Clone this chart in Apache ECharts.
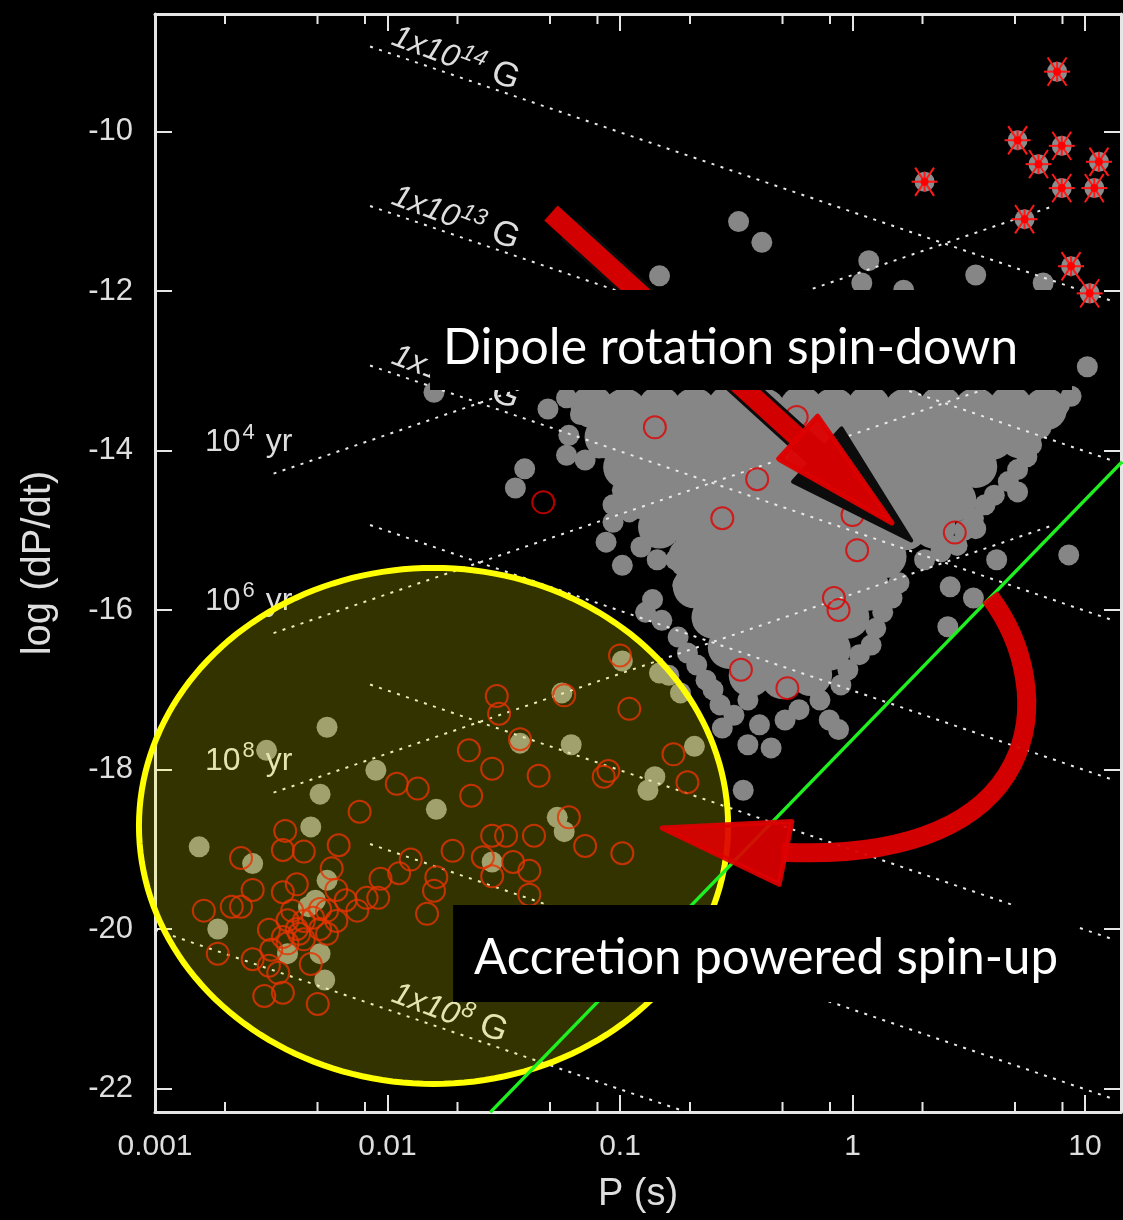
<!DOCTYPE html>
<html><head><meta charset="utf-8">
<script src="https://cdn.jsdelivr.net/npm/echarts@6.0.0/dist/echarts.min.js"></script>
<style>html,body{margin:0;padding:0;background:#000;}#c{width:1123px;height:1220px;}</style>
</head><body><div id="c"></div>
<script>
// ---------------- data (log10 P [s], log10 dP/dt) ----------------
const xTickValues = [-3, -2, -1, 0, 1];
const xTickLabels = ['0.001', '0.01', '0.1', '1', '10'];
const xMinorTicksSec = [0.002, 0.005, 0.008, 0.02, 0.05, 0.08, 0.2, 0.5, 0.8, 2, 5, 8];
const yTickValues = [-22, -20, -18, -16, -14, -12, -10];

// dense part of the normal pulsar population
const grayCore = [
  [-1.12,-13.45],[-0.98,-13.49],[-0.83,-13.46],[-0.68,-13.48],[-0.53,-13.45],[-0.38,-13.49],[-0.22,-13.46],[-0.08,-13.48],[0.07,-13.45],[0.23,-13.49],[0.38,-13.46],[0.53,-13.48],[0.68,-13.45],[0.83,-13.48],
  [-1.06,-13.83],[-0.90,-13.86],[-0.75,-13.82],[-0.61,-13.85],[-0.45,-13.83],[-0.30,-13.86],[-0.15,-13.82],[0.01,-13.85],[0.15,-13.83],[0.30,-13.86],[0.45,-13.82],[0.60,-13.85],[0.72,-13.83],
  [-0.98,-14.21],[-0.83,-14.24],[-0.68,-14.20],[-0.53,-14.23],[-0.38,-14.21],[-0.23,-14.24],[-0.08,-14.20],[0.08,-14.23],[0.23,-14.21],[0.38,-14.24],[0.53,-14.20],
  [-0.91,-14.59],[-0.75,-14.62],[-0.60,-14.58],[-0.45,-14.61],[-0.30,-14.59],[-0.15,-14.62],[0.00,-14.58],[0.15,-14.61],[0.30,-14.59],[0.44,-14.62],
  [-0.83,-14.96],[-0.68,-14.99],[-0.53,-14.95],[-0.38,-14.98],[-0.23,-14.96],[-0.08,-14.99],[0.08,-14.95],[0.23,-14.98],[0.35,-14.96],
  [-0.70,-15.34],[-0.60,-15.37],[-0.45,-15.33],[-0.30,-15.36],[-0.15,-15.34],[0.00,-15.37],[0.14,-15.33],
  [-0.68,-15.71],[-0.53,-15.74],[-0.38,-15.70],[-0.23,-15.73],[-0.08,-15.71],[0.07,-15.74],
  [-0.60,-16.09],[-0.45,-16.12],[-0.30,-16.08],[-0.15,-16.11],[-0.02,-16.09],
  [-0.53,-16.47],[-0.38,-16.50],[-0.23,-16.46],[-0.10,-16.49],
  [-0.44,-16.82],[-0.30,-16.85],[-0.18,-16.81]
];
// individual pulsars on the rim of the cloud and isolated ones
const grayEdge = [
  [-1.23,-13.34],[-1.17,-13.55],[-1.22,-13.81],[-1.23,-14.06],[-1.15,-14.12],[-1.09,-13.97],[-1.31,-13.48],
  [-1.01,-14.27],[-0.99,-14.50],[-1.03,-14.68],[-1.03,-14.90],[-1.06,-15.15],[-0.96,-14.77],[-0.91,-15.21],
  [-0.84,-15.37],[-0.99,-15.44],[-0.76,-15.37],[-0.73,-15.69],[-0.86,-15.87],[-0.89,-16.03],[-0.82,-16.13],
  [-0.75,-16.34],[-0.71,-16.54],[-0.67,-16.69],[-0.63,-16.88],[-0.60,-17.00],[-0.57,-17.19],[-0.56,-17.48],
  [-0.51,-17.32],[-0.45,-17.13],[-0.45,-17.69],[-0.35,-17.73],[-0.40,-17.44],[-0.29,-17.38],[-0.23,-17.25],
  [-0.14,-17.13],[-0.10,-17.38],[-0.06,-17.50],[-0.05,-16.94],[-0.02,-16.75],[0.03,-16.56],[0.08,-16.44],
  [0.10,-16.23],[0.13,-16.03],[0.17,-15.85],[0.20,-15.66],[0.31,-15.37],[0.38,-15.27],[0.45,-15.19],
  [0.48,-15.00],[0.52,-14.85],[0.57,-14.68],[0.61,-14.56],[0.67,-14.39],[0.71,-14.24],[0.75,-14.08],
  [0.77,-13.93],[0.81,-13.72],[0.85,-13.55],[0.89,-13.43],[0.94,-13.32],
  [1.01,-12.95],[0.71,-14.52],[0.53,-14.98],[0.62,-15.37],[0.93,-15.31],[0.42,-15.71],[0.52,-15.85],
  [0.41,-16.21],[-0.47,-18.26],[-1.41,-14.23],[-1.45,-14.47],[-1.80,-13.27],
  [-0.49,-11.13],[-0.39,-11.39],[-0.83,-11.81],[0.07,-11.62],[0.04,-11.90],[0.22,-11.99],[0.53,-11.80],[0.82,-11.90]
];
// isolated (recycled) pulsars in the lower left
const grayLow = [
  [-2.26,-17.47],[-2.52,-17.76],[-2.05,-18.01],[-2.29,-18.31],[-1.79,-18.50],[-2.33,-18.72],[-2.81,-18.97],
  [-2.58,-19.18],[-2.26,-19.39],[-1.21,-17.69],[-1.25,-17.04],[-0.99,-16.64],[-0.85,-18.09],[-0.88,-18.26],
  [-0.68,-17.71],[-0.74,-17.04],[-0.79,-16.82],[-1.27,-18.60],[-1.24,-18.78],[-1.55,-19.16],[-2.73,-20.00],
  [-2.29,-20.31],[-2.27,-20.64],[-2.43,-20.31],[-2.34,-19.72],[-2.31,-19.64],[-1.43,-17.67],[-0.83,-16.79]
];
// binary pulsars (open circles)
const binaries = [
  [-1.33,-14.65],[-0.85,-13.71],[-0.24,-13.58],[-0.41,-14.36],[-0.56,-14.85],[0.00,-14.81],[0.02,-15.25],
  [0.44,-15.03],[-0.08,-15.85],[-0.06,-16.00],[-0.48,-16.75],[-0.28,-16.98],
  [-1.00,-16.57],[-1.53,-17.08],[-1.52,-17.30],[-1.24,-17.07],[-0.96,-17.24],[-1.43,-17.62],[-1.65,-17.76],
  [-1.55,-17.99],[-1.35,-18.08],[-0.77,-17.81],[-1.05,-18.02],[-1.07,-18.09],[-0.71,-18.16],[-1.96,-18.18],
  [-1.87,-18.24],[-1.64,-18.33],[-2.12,-18.53],[-1.22,-18.60],[-2.44,-18.77],[-2.21,-18.95],[-2.45,-19.01],
  [-2.36,-19.03],[-1.72,-19.02],[-1.55,-18.83],[-1.49,-18.83],[-1.37,-18.83],[-1.15,-18.96],[-0.99,-19.05],
  [-2.63,-19.11],[-1.90,-19.13],[-2.24,-19.24],[-1.59,-19.10],[-1.46,-19.16],[-1.39,-19.27],[-1.55,-19.34],
  [-1.95,-19.30],[-2.03,-19.37],[-1.79,-19.35],[-1.80,-19.52],[-1.39,-19.57],[-2.58,-19.51],[-2.39,-19.44],
  [-2.45,-19.54],[-2.22,-19.51],[-2.09,-19.61],[-2.04,-19.61],[-2.18,-19.64],[-2.79,-19.77],[-2.67,-19.72],
  [-2.63,-19.72],[-2.13,-19.77],[-1.83,-19.81],[-2.29,-19.75],[-2.32,-19.86],[-2.43,-19.89],[-2.39,-20.00],
  [-2.51,-20.01],[-2.45,-20.10],[-2.36,-20.13],[-2.29,-20.00],[-2.58,-20.38],[-2.73,-20.31],[-2.33,-20.44],
  [-2.51,-20.46],[-2.47,-20.55],[-2.45,-20.80],[-2.53,-20.84],[-2.30,-20.94],[-2.41,-19.77],[-2.36,-19.90],
  [-2.26,-19.77],[-2.22,-19.90],[-2.43,-20.18],[-2.50,-20.26],[-2.38,-20.06],[-2.26,-20.06]
];
// magnetars (stars)
const magnetars = [
  [0.88,-9.25],[0.71,-10.11],[0.90,-10.18],[1.06,-10.38],[0.80,-10.41],[0.31,-10.63],
  [0.90,-10.71],[1.04,-10.71],[0.74,-11.10],[0.94,-11.69],[1.02,-12.03]
];
// constant-B lines: log Pdot = c - log P
const bFieldExp = [14, 13, 12, 11, 10, 9, 8];
const bFieldIntercept = [-11.01, -13.01, -15.01, -17.01, -19.01, -21.01, -23.01];
const bFieldStart = [-2.075, -2.075, -2.075, -2.075, -2.075, -2.075, -3.0];
const bFieldEnd = 1.13;
const bFieldLabelled = [14, 13, 12, 8];
// constant-age lines: log Pdot = log P + k
const ageExp = [4, 6, 8];
const ageIntercept = [-11.80, -13.80, -15.80];
const ageRange = [-2.49, 0.85];
const ageLabelPos = [[-2.785, -13.87], [-2.785, -15.86], [-2.785, -17.86]];
// death line
const deathLine = [[-1.558, -22.30], [1.16, -14.14]];
// annotations (data coordinates)
const accretionEllipse = {c: [-1.802, -18.708], r: [1.267, 3.235]};
const spinDownArrow = {tail: [-1.297, -11.022], tip: [0.170, -14.909]};
const spinUpCurve = [[0.591, -15.837], [0.892, -17.003], [0.849, -19.197], [-0.288, -19.047]];
const spinUpTip = [-0.819, -18.733];
const textBoxes = [[-1.817, -11.987, 0.944, -13.241], [-1.718, -19.699, 0.970, -20.915]];
const textBoxAnchor = [[-1.761, -12.715], [-1.628, -20.363]];
const textBoxLabels = ['Dipole rotation spin-down', 'Accretion powered spin-up'];

// ---------------- chart ----------------
const X_MIN = -3, X_MAX = 1.1548, Y_MIN = -22.295, Y_MAX = -8.527;
const AX = '#e6e6e6', TXT = '#dedede', FONT = 'Liberation Sans, Arial, sans-serif';
const chart = echarts.init(document.getElementById('c'));

function xAxisDef(pos, showLabel) {
  return {
    type: 'value', min: X_MIN, max: X_MAX, position: pos,
    axisLine: {show: true, onZero: false, lineStyle: {color: AX, width: 3}},
    axisTick: {show: true, inside: true, length: 17, customValues: xTickValues, lineStyle: {color: AX, width: 2}},
    axisLabel: {show: showLabel, customValues: xTickValues, margin: 20, color: TXT, fontSize: 30, fontFamily: FONT,
      formatter: v => { const i = xTickValues.findIndex(t => Math.abs(t - v) < 1e-6); return i >= 0 ? xTickLabels[i] : ''; }},
    splitLine: {show: false},
    name: showLabel ? 'P (s)' : '', nameLocation: 'middle', nameGap: 64,
    nameTextStyle: {color: TXT, fontSize: 38, fontFamily: FONT}
  };
}
function yAxisDef(pos, showLabel) {
  return {
    type: 'value', min: Y_MIN, max: Y_MAX, position: pos,
    axisLine: {show: true, onZero: false, lineStyle: {color: AX, width: 3}},
    axisTick: {show: true, inside: true, length: 17, customValues: yTickValues, lineStyle: {color: AX, width: 2}},
    axisLabel: {show: showLabel, customValues: yTickValues, margin: 22, color: TXT, fontSize: 31, fontFamily: FONT,
      formatter: v => String(Math.round(v))},
    splitLine: {show: false},
    name: showLabel ? 'log (dP/dt)' : '', nameLocation: 'middle', nameGap: 96, nameRotate: 90,
    nameTextStyle: {color: TXT, fontSize: 40, fontFamily: FONT}
  };
}

const series = [];
// gray population
series.push({type: 'scatter', z: 2, silent: true, symbolSize: 43, data: grayCore, itemStyle: {color: '#868686', opacity: 1}});
series.push({type: 'scatter', z: 2, silent: true, symbolSize: 21, data: grayEdge, itemStyle: {color: '#868686', opacity: 1}});
series.push({type: 'scatter', z: 2, silent: true, symbolSize: 21, data: grayLow, itemStyle: {color: '#8a8a8a', opacity: 1}});
// B lines
bFieldExp.forEach((e, i) => {
  const c = bFieldIntercept[i], a = bFieldStart[i];
  series.push({type: 'line', z: 3, silent: true, symbol: 'none', clip: true,
    data: [[a, c - a], [bFieldEnd, c - bFieldEnd]],
    lineStyle: {color: '#e8e8e8', width: 2, type: [3, 6.5]}});
});
// age lines
ageExp.forEach((e, i) => {
  const k = ageIntercept[i];
  series.push({type: 'line', z: 3, silent: true, symbol: 'none', clip: true,
    data: [[ageRange[0], ageRange[0] + k], [ageRange[1], ageRange[1] + k]],
    lineStyle: {color: '#e8e8e8', width: 2, type: [3, 6.5]}});
});
// B labels
series.push({type: 'custom', z: 3, silent: true, coordinateSystem: 'cartesian2d',
  data: bFieldLabelled.map(e => { const c = bFieldIntercept[bFieldExp.indexOf(e)]; return [-2.0, c + 2.0]; }),
  renderItem: (params, api) => {
    const p = api.coord([api.value(0), api.value(1)]);
    const e = bFieldLabelled[params.dataIndex];
    return {type: 'text', x: p[0], y: p[1] - 2, rotation: -0.36,
      style: {text: '{m|1x10}{s|' + e + '}{g| G}', align: 'left', verticalAlign: 'bottom', fill: TXT,
        rich: {
          m: {fontSize: 32, fontStyle: 'italic', fontFamily: FONT, fill: TXT, color: TXT, verticalAlign: 'bottom'},
          s: {fontSize: 23, fontStyle: 'italic', fontFamily: FONT, fill: TXT, color: TXT, verticalAlign: 'bottom', padding: [0, 0, 14, 1]},
          g: {fontSize: 35, fontFamily: FONT, fill: TXT, color: TXT, verticalAlign: 'bottom'}
        }}};
  }});
// age labels
series.push({type: 'custom', z: 3, silent: true, coordinateSystem: 'cartesian2d',
  data: ageLabelPos,
  renderItem: (params, api) => {
    const p = api.coord([api.value(0), api.value(1)]);
    const e = ageExp[params.dataIndex];
    return {type: 'text', x: p[0], y: p[1],
      style: {text: '{a|10}{s|' + e + '}{a| yr}', align: 'left', verticalAlign: 'middle', fill: TXT,
        rich: {
          a: {fontSize: 32, fontFamily: FONT, fill: TXT, color: TXT, verticalAlign: 'bottom'},
          s: {fontSize: 22, fontFamily: FONT, fill: TXT, color: TXT, verticalAlign: 'bottom', padding: [0, 2, 15, 2]}
        }}};
  }});
// binaries
series.push({type: 'scatter', z: 4, silent: true, symbolSize: 22, data: binaries,
  itemStyle: {color: 'rgba(0,0,0,0)', borderColor: '#e00000', borderWidth: 2}});
// magnetars
series.push({type: 'custom', z: 4, silent: true, coordinateSystem: 'cartesian2d', data: magnetars,
  renderItem: (params, api) => {
    const p = api.coord([api.value(0), api.value(1)]);
    const ch = [{type: 'circle', shape: {cx: p[0], cy: p[1], r: 10}, style: {fill: '#8c8c8c'}}];
    [[0, 13], [Math.PI / 2, 10], [Math.PI / 3.2, 17], [Math.PI - Math.PI / 3.2, 17]].forEach(([a, l]) => {
      ch.push({type: 'line', shape: {x1: p[0] - Math.cos(a) * l, y1: p[1] - Math.sin(a) * l, x2: p[0] + Math.cos(a) * l, y2: p[1] + Math.sin(a) * l},
        style: {stroke: '#ff1a1a', lineWidth: 2}});
    });
    ch.push({type: 'circle', shape: {cx: p[0], cy: p[1], r: 4}, style: {fill: '#ff0000'}});
    return {type: 'group', children: ch};
  }});
// ellipse overlay
series.push({type: 'custom', z: 5, silent: true, coordinateSystem: 'cartesian2d', clip: false,
  data: [accretionEllipse.c],
  renderItem: (params, api) => {
    const c = api.coord(accretionEllipse.c);
    const ex = api.coord([accretionEllipse.c[0] + accretionEllipse.r[0], accretionEllipse.c[1]]);
    const ey = api.coord([accretionEllipse.c[0], accretionEllipse.c[1] + accretionEllipse.r[1]]);
    const rx = ex[0] - c[0], ry = c[1] - ey[1];
    const pts = [];
    for (let i = 0; i < 180; i++) { const t = i / 180 * Math.PI * 2; pts.push([c[0] + rx * Math.cos(t), c[1] + ry * Math.sin(t)]); }
    return {type: 'polygon', shape: {points: pts}, style: {fill: 'rgba(255,255,0,0.2)', stroke: '#ffff00', lineWidth: 6}};
  }});
// death line
series.push({type: 'line', z: 6, silent: true, symbol: 'none', clip: true, data: deathLine,
  lineStyle: {color: '#1ff01f', width: 3.5}});
// arrows
function straightArrow(t, h, shaftW, headL, headHalf) {
  const dx = h[0] - t[0], dy = h[1] - t[1], L = Math.hypot(dx, dy), ux = dx / L, uy = dy / L, nx = -uy, ny = ux;
  const base = [h[0] - ux * headL, h[1] - uy * headL];
  const be = [base[0] + ux * 3, base[1] + uy * 3];
  const sw = shaftW / 2;
  return {
    shaft: [[t[0] + nx * sw, t[1] + ny * sw], [be[0] + nx * sw, be[1] + ny * sw], [be[0] - nx * sw, be[1] - ny * sw], [t[0] - nx * sw, t[1] - ny * sw]],
    head: [[base[0] + nx * headHalf, base[1] + ny * headHalf], h, [base[0] - nx * headHalf, base[1] - ny * headHalf]]
  };
}
series.push({type: 'custom', z: 7, silent: true, coordinateSystem: 'cartesian2d', clip: false,
  data: [[spinDownArrow.tail[0], spinDownArrow.tail[1], spinDownArrow.tip[0], spinDownArrow.tip[1]]],
  encode: {x: [0, 2], y: [1, 3]},
  renderItem: (params, api) => {
    const t = api.coord(spinDownArrow.tail), h = api.coord(spinDownArrow.tip);
    const dx = h[0] - t[0], dy = h[1] - t[1], L = Math.hypot(dx, dy), ux = dx / L, uy = dy / L;
    const sh = 26;
    const s = straightArrow([t[0] + ux * sh, t[1] + uy * sh], [h[0] + ux * sh, h[1] + uy * sh], 22, 127, 36);
    const a = straightArrow(t, h, 20, 127, 29);
    const shadow = {fill: '#0c0c0c', stroke: '#0c0c0c', lineWidth: 4, lineJoin: 'round'};
    const red = {fill: '#dd0000', stroke: '#dd0000', lineWidth: 5, lineJoin: 'round', opacity: 0.95};
    return {type: 'group', children: [
      {type: 'polygon', shape: {points: s.shaft}, style: shadow},
      {type: 'polygon', shape: {points: s.head}, style: shadow},
      {type: 'polygon', shape: {points: a.shaft}, style: {fill: '#dd0000', opacity: 0.95}},
      {type: 'polygon', shape: {points: a.head}, style: red}
    ]};
  }});
series.push({type: 'custom', z: 7, silent: true, coordinateSystem: 'cartesian2d', clip: false,
  data: [[spinUpCurve[0][0], spinUpCurve[0][1], spinUpTip[0], spinUpTip[1]]],
  encode: {x: [0, 2], y: [1, 3]},
  renderItem: (params, api) => {
    const P = spinUpCurve.map(q => api.coord(q));
    const tip = api.coord(spinUpTip), b = P[3];
    const dx = tip[0] - b[0], dy = tip[1] - b[1], L = Math.hypot(dx, dy), nx = -dy / L, ny = dx / L, hw = 32;
    return {type: 'group', children: [
      {type: 'bezierCurve', shape: {x1: P[0][0], y1: P[0][1], cpx1: P[1][0], cpy1: P[1][1], cpx2: P[2][0], cpy2: P[2][1], x2: b[0] + dx / L * 4, y2: b[1] + dy / L * 4},
        style: {stroke: '#dd0000', lineWidth: 19, fill: null, lineCap: 'butt', opacity: 0.95}},
      {type: 'polygon', shape: {points: [[b[0] + nx * hw, b[1] + ny * hw], tip, [b[0] - nx * hw, b[1] - ny * hw]]},
        style: {fill: '#dd0000', stroke: '#dd0000', lineWidth: 5, lineJoin: 'round', opacity: 0.92}}
    ]};
  }});
// text boxes
const measureCtx = document.createElement('canvas').getContext('2d');
function textScale(txt, size, fam, target) { measureCtx.font = size + 'px ' + fam; return target / measureCtx.measureText(txt).width; }
const boxTextWidth = [575, 584];
series.push({type: 'custom', z: 8, silent: true, coordinateSystem: 'cartesian2d', clip: false,
  data: textBoxes, encode: {x: [0, 2], y: [1, 3]},
  renderItem: (params, api) => {
    const i = params.dataIndex;
    const lt = api.coord([api.value(0), api.value(1)]), rb = api.coord([api.value(2), api.value(3)]);
    const an = api.coord(textBoxAnchor[i]);
    const sc = textScale(textBoxLabels[i], 50, 'Lato', boxTextWidth[i]);
    return {type: 'group', children: [
      {type: 'rect', shape: {x: lt[0], y: lt[1], width: rb[0] - lt[0], height: rb[1] - lt[1]}, style: {fill: '#000'}},
      {type: 'text', x: an[0], y: an[1], scaleX: sc, scaleY: 1,
        style: {text: textBoxLabels[i], fontSize: 50, fontFamily: 'Lato', fill: '#ffffff', align: 'left', verticalAlign: 'middle'}}
    ]};
  }});
// minor ticks (top and bottom)
series.push({type: 'custom', z: 9, silent: true, coordinateSystem: 'cartesian2d', clip: false,
  data: xMinorTicksSec.map(v => [Math.log10(v), -15]),
  renderItem: (params, api) => {
    const x = api.coord([api.value(0), Y_MIN])[0];
    const yb = api.coord([0, Y_MIN])[1], yt = api.coord([0, Y_MAX])[1];
    return {type: 'group', children: [
      {type: 'line', shape: {x1: x, y1: yb, x2: x, y2: yb - 10}, style: {stroke: AX, lineWidth: 2}},
      {type: 'line', shape: {x1: x, y1: yt, x2: x, y2: yt + 10}, style: {stroke: AX, lineWidth: 2}}
    ]};
  }});

chart.setOption({
  backgroundColor: '#000',
  animation: false,
  grid: {left: 155, top: 14, width: 966, height: 1098, containLabel: false},
  xAxis: [xAxisDef('bottom', true), xAxisDef('top', false)],
  yAxis: [yAxisDef('left', true), yAxisDef('right', false)],
  series: series
});
</script>
</body></html>
